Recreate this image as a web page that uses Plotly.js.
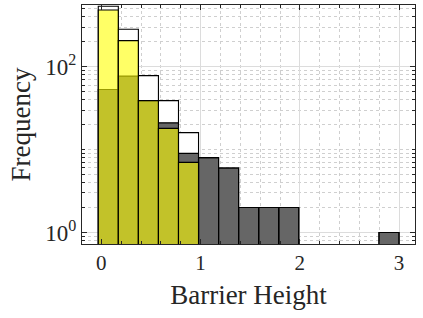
<!DOCTYPE html>
<html>
<head>
<meta charset="utf-8">
<script src="https://cdn.plot.ly/plotly-3.0.1.min.js"></script>
<style>html,body{margin:0;padding:0;background:#fff}#chart{width:423px;height:318px}</style>
</head>
<body>
<div id="chart"></div>
<script>
// Bin centres (bin width 0.202)
const binCenters = [0.07, 0.272, 0.474, 0.676, 0.878, 1.08, 1.282, 1.484, 1.686, 1.888, 2.09, 2.292, 2.494, 2.696, 2.898];
const binWidth = 0.202;
// Series (null = empty bin)
const grayCounts   = [53, 77, 39, 21, 9, 8, 6, 2, 2, 2, null, null, null, null, 1];
const yellowCounts = [483, 206, 39, 18, 7, null, null, null, null, null, null, null, null, null, null];
const totalCounts  = [536, 283, 78, 39, 16, 8, 6, 2, 2, 2, null, null, null, null, 1];

const xTickVals = [0, 1, 2, 3];
const xTickText = ['0', '1', '2', '3'];
const yTickVals = [1, 100];
const yTickText = ['10<sup>0</sup>', '10<sup>2</sup>'];
const yMinorVals = [0.8, 0.9, 2, 3, 4, 5, 6, 7, 8, 9, 10, 20, 30, 40, 50, 60, 70, 80, 90, 200, 300, 400, 500];

const font = "'Liberation Serif', 'Times New Roman', Times, serif";
const line = {color: '#000', width: 1.1};

const traces = [
  {type: 'bar', x: binCenters, y: totalCounts, width: binWidth,
   marker: {color: '#ffffff', line: line}, hoverinfo: 'skip'},
  {type: 'bar', x: binCenters, y: grayCounts, width: binWidth,
   marker: {color: 'rgba(0,0,0,0.6)', line: line}, hoverinfo: 'skip'},
  {type: 'bar', x: binCenters, y: yellowCounts, width: binWidth,
   marker: {color: 'rgba(255,255,0,0.6)', line: line}, hoverinfo: 'skip'}
];

const layout = {
  width: 423, height: 318,
  margin: {l: 82, r: 8, t: 5, b: 74},
  barmode: 'overlay',
  showlegend: false,
  paper_bgcolor: '#fff', plot_bgcolor: '#fff',
  font: {family: font, color: '#262626', size: 20},
  xaxis: {
    range: [-0.195, 3.16],
    tickmode: 'array', tickvals: xTickVals, ticktext: xTickText,
    ticks: 'inside', ticklen: 5, tickcolor: '#262626',
    showline: true, linecolor: '#262626', linewidth: 1, mirror: 'ticks',
    showgrid: true, gridcolor: '#dcdcdc', gridwidth: 1.2,
    zeroline: false,
    tickfont: {family: font, size: 21, color: '#262626'},
    minor: {dtick: 0.2, tick0: 0, ticks: 'inside', ticklen: 3, tickcolor: '#262626',
            showgrid: true, gridcolor: '#cfcfcf', griddash: 'dot', gridwidth: 1},
    title: {text: 'Barrier Height', font: {family: font, size: 27, color: '#262626'}, standoff: 10}
  },
  yaxis: {
    type: 'log',
    range: [-0.139, 2.744],
    tickmode: 'array', tickvals: yTickVals, ticktext: yTickText,
    ticks: 'inside', ticklen: 5, tickcolor: '#262626',
    showline: true, linecolor: '#262626', linewidth: 1, mirror: 'ticks',
    showgrid: true, gridcolor: '#dcdcdc', gridwidth: 1.2,
    zeroline: false,
    tickfont: {family: font, size: 23, color: '#262626'},
    minor: {tickmode: 'array', tickvals: yMinorVals, ticks: 'inside', ticklen: 3, tickcolor: '#262626',
            showgrid: true, gridcolor: '#cfcfcf', griddash: 'dot', gridwidth: 1},
    title: {text: 'Frequency', font: {family: font, size: 27, color: '#262626'}, standoff: 6}
  }
};

Plotly.newPlot('chart', traces, layout, {staticPlot: true, displayModeBar: false});
</script>
</body>
</html>
